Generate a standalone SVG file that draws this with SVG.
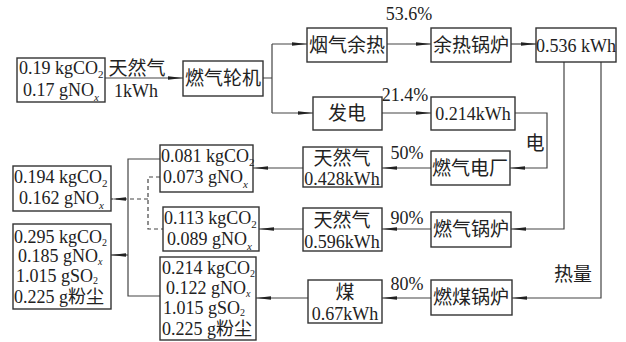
<svg xmlns="http://www.w3.org/2000/svg" width="626" height="342" viewBox="0 0 626 342">
<style>
.b{fill:#fff;stroke:#333;stroke-width:1.4}
.l{fill:none;stroke:#444;stroke-width:1.2}
.d{fill:none;stroke:#444;stroke-width:1.2;stroke-dasharray:4 3}
.t{font-family:"Liberation Serif","Noto Sans CJK SC",serif;font-size:18px;fill:#222}
.c{font-family:"Noto Sans CJK SC",sans-serif;font-size:19px;fill:#222}
.m{text-anchor:middle}
.s{font-size:11px}
.s2{font-size:10px}
.i{font-style:italic}
</style>
<defs>
<marker id="ah" markerUnits="userSpaceOnUse" markerWidth="16" markerHeight="6" refX="15" refY="3" orient="auto">
<path d="M0,1.2 L15,3 L0,4.8 Z" fill="#222"/>
</marker>
</defs>
<rect width="626" height="342" fill="#fff"/>
<g id="connectors">
<path class="l" d="M105,78 H183" marker-end="url(#ah)"/>
<path class="l" d="M263,78 H272 M272,44 V113"/>
<path class="l" d="M272,44 H307" marker-end="url(#ah)"/>
<path class="l" d="M272,113 H313" marker-end="url(#ah)"/>
<path class="l" d="M387,44 H431" marker-end="url(#ah)"/>
<path class="l" d="M511,44 H536" marker-end="url(#ah)"/>
<path class="l" d="M382,113 H431" marker-end="url(#ah)"/>
<path class="l" d="M515,113 H547 V168 H510" marker-end="url(#ah)"/>
<path class="l" d="M564,62 V229 H511" marker-end="url(#ah)"/>
<path class="l" d="M601,62 V298 H512" marker-end="url(#ah)"/>
<path class="l" d="M431,168 H382" marker-end="url(#ah)"/>
<path class="l" d="M431,229 H382" marker-end="url(#ah)"/>
<path class="l" d="M431,298 H382" marker-end="url(#ah)"/>
<path class="l" d="M303,168 H253" marker-end="url(#ah)"/>
<path class="l" d="M303,229 H259" marker-end="url(#ah)"/>
<path class="l" d="M308,298 H256" marker-end="url(#ah)"/>
<path class="l" d="M160,159 H128 V296 H160"/>
<path class="l" d="M128,255 H111" marker-end="url(#ah)"/>
<path class="d" d="M160,177 H148 V229 H163"/>
<path class="d" d="M148,199 H111" marker-end="url(#ah)"/>
</g>
<g id="src">
<rect class="b" x="17" y="58" width="88" height="44"/>
<text class="t" x="19" y="74">0.19 kgCO<tspan class="s" dy="4">2</tspan></text>
<text class="t" x="23" y="96">0.17 gNO<tspan class="s i" dy="5">x</tspan></text>
</g>
<g id="lbl-gas">
<text class="c m" x="137" y="75">天然气</text>
<text class="t m" x="136" y="97">1kWh</text>
</g>
<g id="turbine"><rect class="b" x="183" y="61" width="80" height="35"/><text class="c m" x="223" y="85">燃气轮机</text></g>
<g id="flue"><rect class="b" x="307" y="28" width="80" height="34"/><text class="c m" x="347" y="52">烟气余热</text></g>
<g id="p536"><text class="t m" x="409" y="20">53.6%</text></g>
<g id="hrsg"><rect class="b" x="431" y="28" width="80" height="34"/><text class="c m" x="471" y="52">余热锅炉</text></g>
<g id="k536"><rect class="b" x="536" y="28" width="80" height="34"/><text class="t m" x="576" y="52">0.536 kWh</text></g>
<g id="gen"><rect class="b" x="313" y="97" width="69" height="33"/><text class="c m" x="347" y="120">发电</text></g>
<g id="p214"><text class="t m" x="405" y="101">21.4%</text></g>
<g id="k214"><rect class="b" x="431" y="97" width="84" height="33"/><text class="t m" x="473" y="120">0.214kWh</text></g>
<g id="lbl-elec"><text class="c m" x="535" y="150">电</text></g>
<g id="plant"><rect class="b" x="431" y="151" width="79" height="34"/><text class="c m" x="470" y="175">燃气电厂</text></g>
<g id="p50"><text class="t m" x="407" y="159">50%</text></g>
<g id="g428"><rect class="b" x="303" y="147" width="79" height="40"/><text class="c m" x="342" y="165">天然气</text><text class="t m" x="342" y="185">0.428kWh</text></g>
<g id="gboiler"><rect class="b" x="431" y="212" width="80" height="35"/><text class="c m" x="471" y="236">燃气锅炉</text></g>
<g id="p90"><text class="t m" x="407" y="224">90%</text></g>
<g id="g596"><rect class="b" x="303" y="208" width="79" height="43"/><text class="c m" x="342" y="227">天然气</text><text class="t m" x="342" y="248">0.596kWh</text></g>
<g id="lbl-heat"><text class="c m" x="573" y="281">热量</text></g>
<g id="cboiler"><rect class="b" x="431" y="280" width="81" height="35"/><text class="c m" x="471" y="304">燃煤锅炉</text></g>
<g id="p80"><text class="t m" x="407" y="290">80%</text></g>
<g id="coal"><rect class="b" x="308" y="280" width="74" height="43"/><text class="c m" x="345" y="299">煤</text><text class="t m" x="345" y="320">0.67kWh</text></g>
<g id="e081">
<rect class="b" x="160" y="145" width="93" height="47"/>
<text class="t" x="161" y="162">0.081 kgCO<tspan class="s" dy="4">2</tspan></text>
<text class="t" x="163" y="183">0.073 gNO<tspan class="s i" dy="5">x</tspan></text>
</g>
<g id="e113">
<rect class="b" x="163" y="207" width="96" height="44"/>
<text class="t" x="164" y="224">0.113 kgCO<tspan class="s" dy="4">2</tspan></text>
<text class="t" x="167" y="245">0.089 gNO<tspan class="s i" dy="5">x</tspan></text>
</g>
<g id="e214">
<rect class="b" x="160" y="257" width="96" height="83"/>
<text class="t" x="162" y="274">0.214 kgCO<tspan class="s2" dy="3">2</tspan></text>
<text class="t" x="166" y="294">0.122 gNO<tspan class="s2 i" dy="3">x</tspan></text>
<text class="t" x="163" y="314">1.015 gSO<tspan class="s2" dy="2">2</tspan></text>
<text class="t" x="162" y="335">0.225 g粉尘</text>
</g>
<g id="t194">
<rect class="b" x="13" y="166" width="98" height="45"/>
<text class="t" x="14" y="183">0.194 kgCO<tspan class="s" dy="4">2</tspan></text>
<text class="t" x="19" y="204">0.162 gNO<tspan class="s i" dy="5">x</tspan></text>
</g>
<g id="t295">
<rect class="b" x="13" y="224" width="98" height="85"/>
<text class="t" x="14" y="243">0.295 kgCO<tspan class="s2" dy="3">2</tspan></text>
<text class="t" x="18" y="262">0.185 gNO<tspan class="s2 i" dy="3">x</tspan></text>
<text class="t" x="16" y="282">1.015 gSO<tspan class="s2" dy="2">2</tspan></text>
<text class="t" x="14" y="303">0.225 g粉尘</text>
</g>
</svg>
